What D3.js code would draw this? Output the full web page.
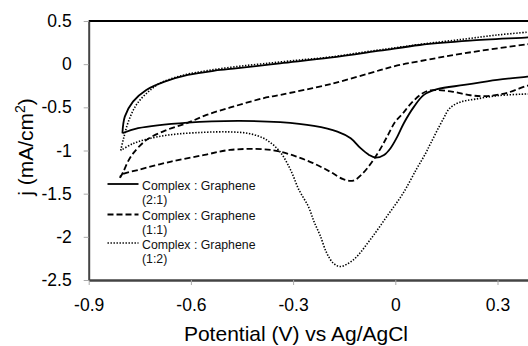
<!DOCTYPE html>
<html>
<head>
<meta charset="utf-8">
<script src="https://cdn.jsdelivr.net/npm/d3@7"></script>
<style>
  body { margin: 0; background: #fff; }
  svg { display: block; font-family: "Liberation Sans", Arial, sans-serif; }
</style>
</head>
<body>
<svg id="chart" width="528" height="346"></svg>
<script>
// axis ticks
const xTicks = [-0.9, -0.6, -0.3, 0, 0.3];
const xTickLabels = ['-0.9', '-0.6', '-0.3', '0', '0.3'];
const yTicks = [0.5, 0, -0.5, -1, -1.5, -2, -2.5];
const yTickLabels = ['0.5', '0', '-0.5', '-1', '-1.5', '-2', '-2.5'];

// legend labels
const seriesLabels = [
  ['Complex : Graphene', '(2:1)'],
  ['Complex : Graphene', '(1:1)'],
  ['Complex : Graphene', '(1:2)']
];

// CV loops: potential (V) and current density (mA/cm2),
// forward sweep from the left vertex, then the return sweep
const potential21 = [-0.801, -0.794, -0.770, -0.731, -0.677, -0.609, -0.530, -0.462, -0.338, -0.192, -0.045, 0.072, 0.219, 0.389, 0.40,
  0.40, 0.387, 0.299, 0.202, 0.123, 0.084, 0.055, 0.025, 0.006, -0.014, -0.033, -0.058, -0.077, -0.102, -0.131, -0.170, -0.239, -0.338, -0.462, -0.609, -0.755, -0.801];
const current21 = [-0.80, -0.608, -0.434, -0.299, -0.203, -0.125, -0.075, -0.047, 0.010, 0.075, 0.156, 0.222, 0.272, 0.311, 0.315,
  -0.140, -0.145, -0.183, -0.241, -0.290, -0.356, -0.492, -0.684, -0.839, -0.973, -1.051, -1.082, -1.051, -0.973, -0.858, -0.781, -0.715, -0.672, -0.657, -0.677, -0.742, -0.80];

const potential11 = [-0.808, -0.798, -0.785, -0.769, -0.730, -0.671, -0.612, -0.554, -0.476, -0.388, -0.338, -0.190, -0.045, 0.006, 0.072, 0.202, 0.387, 0.40,
  0.40, 0.387, 0.33, 0.27, 0.22, 0.17, 0.123, 0.094, 0.072, 0.045, 0.02, 0.0, -0.024, -0.053, -0.092, -0.123, -0.153, -0.192, -0.241, -0.290, -0.338, -0.388, -0.485, -0.560, -0.658, -0.755, -0.804, -0.808];
const current11 = [-1.317, -1.244, -1.130, -1.031, -0.877, -0.762, -0.684, -0.588, -0.492, -0.395, -0.356, -0.23, -0.07, -0.015, 0.035, 0.126, 0.23, 0.235,
  -0.245, -0.25, -0.33, -0.37, -0.36, -0.32, -0.30, -0.31, -0.36, -0.46, -0.58, -0.665, -0.84, -1.04, -1.25, -1.348, -1.332, -1.244, -1.147, -1.071, -1.013, -0.985, -0.993, -1.051, -1.128, -1.225, -1.282, -1.317];

const potential12 = [-0.806, -0.797, -0.783, -0.760, -0.728, -0.690, -0.625, -0.552, -0.470, -0.388, -0.29, -0.192, -0.092, 0.0, 0.084, 0.202, 0.299, 0.387, 0.40,
  0.40, 0.387, 0.30, 0.235, 0.19, 0.16, 0.14, 0.104, 0.088, 0.063, 0.023, -0.025, -0.074, -0.123, -0.162, -0.182, -0.201, -0.221, -0.238, -0.255, -0.283, -0.308, -0.339, -0.378, -0.427, -0.485, -0.565, -0.665, -0.73, -0.77, -0.806];
const current12 = [-1.0, -0.85, -0.66, -0.47, -0.33, -0.22, -0.13, -0.075, -0.03, 0.005, 0.045, 0.082, 0.14, 0.19, 0.235, 0.29, 0.338, 0.37, 0.375,
  -0.343, -0.345, -0.365, -0.405, -0.44, -0.51, -0.64, -0.915, -1.04, -1.21, -1.494, -1.765, -2.035, -2.266, -2.344, -2.304, -2.19, -1.98, -1.83, -1.65, -1.455, -1.22, -1.013, -0.877, -0.805, -0.785, -0.79, -0.82, -0.87, -0.92, -1.0];

const series = [
  { e: potential21, j: current21, dash: null, width: 1.8 },
  { e: potential11, j: current11, dash: '6,3', width: 1.8 },
  { e: potential12, j: current12, dash: '1.4,1.6', width: 1.6 }
];

const svg = d3.select('#chart');
const plotLeft = 88.7, plotTop = 21, plotBottom = 280;
const x = d3.scaleLinear().domain([-0.9, 0.4]).range([plotLeft, plotLeft + 1.3 / 0.3 * 102.2]);
const y = d3.scaleLinear().domain([-2.5, 0.5]).range([plotBottom, plotTop]);

svg.append('clipPath').attr('id', 'plot')
  .append('rect').attr('x', plotLeft).attr('y', plotTop)
  .attr('width', 528 - plotLeft).attr('height', plotBottom - plotTop);

const line = d3.line()
  .x(d => x(d[0]))
  .y(d => y(d[1]))
  .curve(d3.curveCatmullRom.alpha(0.5));

const plot = svg.append('g').attr('clip-path', 'url(#plot)');
series.forEach(s => {
  plot.append('path')
    .attr('d', line(s.e.map((v, i) => [v, s.j[i]])))
    .attr('fill', 'none')
    .attr('stroke', '#000')
    .attr('stroke-width', s.width)
    .attr('stroke-dasharray', s.dash);
});

// top frame line
svg.append('line')
  .attr('x1', x(-0.9)).attr('x2', x(0.4))
  .attr('y1', y(0.5)).attr('y2', y(0.5))
  .attr('stroke', '#000').attr('stroke-width', 2);

const gx = svg.append('g')
  .attr('transform', `translate(0,${y(-2.5)})`)
  .call(d3.axisBottom(x).tickValues(xTicks).tickFormat((d, i) => xTickLabels[i])
    .tickSize(5).tickPadding(14).tickSizeOuter(0));
gx.attr('font-size', null).attr('font-family', null);
gx.select('.domain').attr('stroke', '#444').attr('stroke-width', 2.4);
gx.selectAll('.tick line').attr('stroke', '#aaa');
gx.selectAll('.tick text').attr('font-size', 17.5).attr('fill', '#000');

const gy = svg.append('g')
  .attr('transform', `translate(${x(-0.9)},0)`)
  .call(d3.axisLeft(y).tickValues(yTicks).tickFormat((d, i) => yTickLabels[i])
    .tickSize(5).tickPadding(12).tickSizeOuter(0));
gy.attr('font-size', null).attr('font-family', null);
gy.select('.domain').attr('stroke', '#444').attr('stroke-width', 2);
gy.selectAll('.tick line').attr('stroke', '#aaa');
gy.selectAll('.tick text').attr('font-size', 17.5).attr('fill', '#000');

// axis titles
svg.append('text')
  .attr('x', 296).attr('y', 341)
  .attr('text-anchor', 'middle')
  .attr('font-size', 21)
  .text('Potential (V) vs Ag/AgCl');

const yt = svg.append('text')
  .attr('transform', 'translate(33,147) rotate(-90)')
  .attr('text-anchor', 'middle')
  .attr('font-size', 21);
yt.append('tspan').text('j (mA/cm');
yt.append('tspan').attr('font-size', 14).attr('dy', -8).text('2');
yt.append('tspan').attr('dy', 8).text(')');

// legend
const legendY = [184, 214.5, 243];
series.forEach((s, i) => {
  const g = svg.append('g').attr('transform', `translate(0,${legendY[i]})`);
  g.append('line')
    .attr('x1', 107.5).attr('x2', 138.5).attr('y1', 0).attr('y2', 0)
    .attr('stroke', '#000').attr('stroke-width', s.width)
    .attr('stroke-dasharray', s.dash);
  seriesLabels[i].forEach((t, k) => {
    g.append('text')
      .attr('x', 142).attr('y', 5.5 + k * 14)
      .attr('font-size', 12.3)
      .attr('fill', '#111')
      .text(t);
  });
});
</script>
</body>
</html>
